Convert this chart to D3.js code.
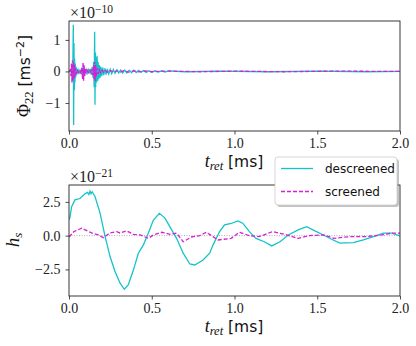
<!DOCTYPE html>
<html>
<head>
<meta charset="utf-8">
<script src="https://cdn.jsdelivr.net/npm/d3@7"></script>
<style>
  html, body { margin: 0; padding: 0; background: #fff; }
  svg { display: block; }
</style>
</head>
<body>
<div id="chart"></div>
<script>
// values, t in ms
const xTicks = [0, 0.5, 1.0, 1.5, 2.0]
const phiTicks = [-1, 0, 1]
const hTicks = [-2.5, 0, 2.5]

// Phi_22 in units of 1e-10 m s^-2
const phiDescreened = [
  [0.000, 0], [0.010, 0.05], [0.015, -0.1], [0.018, 0.2], [0.021, -0.3], [0.024, 0.5],
  [0.026, 1.48], [0.028, -1.7], [0.030, 0.9], [0.032, -0.6], [0.034, 0.4], [0.036, -0.35],
  [0.038, 0.25], [0.040, -0.2], [0.043, 0.15], [0.046, -0.12], [0.050, 0.08], [0.055, -0.06],
  [0.060, 0.05], [0.066, -0.05], [0.072, 0.04], [0.078, -0.08], [0.082, 0.12], [0.085, -0.15],
  [0.088, 0.15], [0.091, -0.12], [0.095, 0.08], [0.100, -0.06], [0.106, 0.05], [0.112, -0.05],
  [0.118, 0.05], [0.124, -0.06], [0.130, 0.08], [0.135, -0.1], [0.140, 0.15], [0.145, -0.2],
  [0.149, 0.3], [0.152, -0.5], [0.155, 1.26], [0.157, -1.06], [0.159, 0.6], [0.161, -0.5],
  [0.164, 0.45], [0.167, -0.35], [0.170, 0.5], [0.173, -0.3], [0.176, 0.3], [0.180, -0.25],
  [0.184, 0.2], [0.188, -0.2], [0.193, 0.15], [0.198, -0.15], [0.204, 0.12], [0.210, -0.12],
  [0.217, 0.1], [0.224, -0.1], [0.232, 0.08], [0.240, -0.08], [0.249, 0.07], [0.258, -0.07],
  [0.268, 0.06], [0.278, -0.06], [0.289, 0.05], [0.300, -0.05], [0.312, 0.05], [0.324, -0.05],
  [0.337, 0.045], [0.350, -0.045], [0.364, 0.04], [0.378, -0.04], [0.392, 0.04], [0.406, -0.035],
  [0.420, 0.035], [0.435, -0.03], [0.450, 0.03], [0.466, -0.03], [0.482, 0.025], [0.500, -0.025],
  [0.520, 0.02], [0.540, -0.02], [0.560, 0.02], [0.580, -0.02], [0.600, 0.015], [0.700, -0.01],
  [0.900, 0.01], [1.200, -0.01], [1.500, 0.01], [1.800, -0.01], [2.000, 0]
]
const phiScreened = [
  [0.000, 0], [0.008, 0.05], [0.012, -0.15], [0.015, 0.25], [0.018, -0.35], [0.021, 0.35],
  [0.024, -0.3], [0.027, 0.3], [0.030, -0.25], [0.033, 0.2], [0.036, -0.15], [0.040, 0.1],
  [0.045, -0.08], [0.050, 0.05], [0.058, -0.04], [0.066, 0.04], [0.074, -0.08], [0.078, 0.15],
  [0.082, -0.25], [0.085, 0.3], [0.088, -0.3], [0.091, 0.2], [0.094, -0.15], [0.098, 0.1],
  [0.103, -0.06], [0.110, 0.04], [0.118, -0.04], [0.126, 0.04], [0.134, -0.05], [0.140, 0.08],
  [0.145, -0.12], [0.149, 0.2], [0.152, -0.25], [0.155, 0.3], [0.158, -0.3], [0.161, 0.2],
  [0.165, -0.15], [0.170, 0.1], [0.176, -0.08], [0.183, 0.06], [0.191, -0.05], [0.200, 0.04],
  [0.210, -0.04], [0.220, 0.03], [0.235, -0.03], [0.250, 0.03], [0.270, -0.025], [0.290, 0.025],
  [0.310, -0.02], [0.330, 0.02], [0.360, -0.02], [0.390, 0.02], [0.420, -0.015], [0.460, 0.015],
  [0.500, -0.01], [0.600, 0.01], [0.800, -0.01], [1.000, 0.01], [1.300, -0.01], [1.600, 0.01],
  [2.000, 0]
]

// h_s in units of 1e-21
const hDescreened = [
  [0.000, 1.2], [0.005, 1.3], [0.016, 2.15], [0.036, 2.65], [0.066, 2.75], [0.097, 3.1],
  [0.112, 3.2], [0.120, 3.05], [0.127, 3.3], [0.133, 3.1], [0.140, 3.25], [0.157, 2.9],
  [0.187, 1.7], [0.218, -0.05], [0.248, -1.55], [0.278, -2.65], [0.308, -3.5], [0.334, -3.97],
  [0.358, -3.65], [0.389, -2.55], [0.419, -1.3], [0.449, -0.7], [0.479, 0.18], [0.510, 1.15],
  [0.546, 1.65], [0.580, 1.3], [0.610, 0.65], [0.650, -0.2], [0.690, -1.3], [0.730, -2.1],
  [0.760, -2.17], [0.810, -1.8], [0.850, -1.3], [0.870, -0.7], [0.910, 0.3], [0.940, 0.8],
  [0.980, 0.9], [1.020, 1.09], [1.050, 0.92], [1.090, 0.3], [1.130, -0.2], [1.180, -0.45],
  [1.225, -0.76], [1.275, -0.45], [1.325, 0.05], [1.385, 0.42], [1.436, 0.67], [1.486, 0.35],
  [1.537, 0.05], [1.587, -0.27], [1.637, -0.56], [1.718, -0.52], [1.779, -0.32], [1.839, -0.07],
  [1.900, 0.18], [1.950, 0.18], [2.000, -0.02]
]
const hScreened = [
  [0.000, -0.1], [0.030, 0.3], [0.077, 0.55], [0.137, 0.2], [0.177, 0.05], [0.207, -0.15],
  [0.248, 0.2], [0.288, 0.3], [0.308, 0.2], [0.349, 0.35], [0.389, 0.1], [0.430, 0.05],
  [0.480, -0.2], [0.510, 0.05], [0.560, 0.25], [0.610, 0.1], [0.650, 0.18], [0.690, -0.45],
  [0.740, -0.1], [0.790, 0.0], [0.830, 0.25], [0.870, -0.07], [0.900, -0.32], [0.980, -0.2],
  [1.030, 0.25], [1.090, 0.0], [1.150, -0.07], [1.230, 0.3], [1.300, 0.1], [1.385, -0.2],
  [1.450, 0.0], [1.540, 0.05], [1.600, -0.2], [1.700, -0.07], [1.800, -0.07], [1.890, 0.05],
  [1.950, 0.18], [2.000, 0.18]
]

const cyan = '#14c3c8'
const magenta = '#d81fd8'
const serif = '"Liberation Serif", "DejaVu Serif", serif'
const sans = '"DejaVu Sans", sans-serif'

const W = 416, H = 346
const svg = d3.select('#chart').append('svg')
  .attr('width', W).attr('height', H)

const x = d3.scaleLinear().domain([0, 2]).range([69, 400])

function panel(id, top, bottom, yDomain, ticks, fmt, series, expo, offsetY) {
  const y = d3.scaleLinear().domain(yDomain).range([bottom, top])
  const g = svg.append('g')

  g.append('clipPath').attr('id', id)
    .append('rect').attr('x', 69).attr('y', top).attr('width', 331).attr('height', bottom - top)

  const plot = g.append('g').attr('clip-path', `url(#${id})`)
  const line = d3.line().x(d => x(d[0])).y(d => y(d[1]))
  series.forEach(s => {
    if (s.zero) {
      plot.append('line')
        .attr('x1', 69).attr('x2', 400).attr('y1', y(0)).attr('y2', y(0))
        .attr('stroke', '#999').attr('stroke-width', 0.8).attr('stroke-dasharray', '1,1.5')
      return
    }
    plot.append('path').datum(s.data)
      .attr('d', line)
      .attr('fill', 'none')
      .attr('stroke', s.color)
      .attr('stroke-width', 1.3)
      .attr('stroke-dasharray', s.dash || null)
  })

  // axes
  const xa = g.append('g').attr('transform', `translate(0,${bottom})`)
    .call(d3.axisBottom(x).tickValues(xTicks).tickSize(3.5).tickPadding(4).tickFormat(d3.format('.1f')))
  const ya = g.append('g').attr('transform', 'translate(69,0)')
    .call(d3.axisLeft(y).tickValues(ticks).tickSize(3.5).tickPadding(5).tickFormat(fmt))
  ;[xa, ya].forEach(a => {
    a.select('.domain').remove()
    a.selectAll('line').attr('stroke', '#222').attr('stroke-width', 0.8)
    a.selectAll('text').attr('font-family', serif).attr('font-size', 14).attr('fill', '#222')
  })

  g.append('rect').attr('x', 69).attr('y', top).attr('width', 331).attr('height', bottom - top)
    .attr('fill', 'none').attr('stroke', '#222').attr('stroke-width', 0.9)

  // offset text
  const off = g.append('text').attr('x', 70).attr('y', offsetY)
    .attr('font-family', serif).attr('font-size', 16).attr('fill', '#222')
  off.append('tspan').text('×10')
  off.append('tspan').attr('font-size', 11.5).attr('dy', -5.5).text(expo)

  // x label
  const xl = g.append('text').attr('x', 234).attr('y', bottom + 36)
    .attr('text-anchor', 'middle').attr('fill', '#111')
  xl.append('tspan').attr('font-family', serif).attr('font-style', 'italic').attr('font-size', 18).text('t')
  xl.append('tspan').attr('font-family', serif).attr('font-style', 'italic').attr('font-size', 12.5).attr('dy', 3).text('ret')
  xl.append('tspan').attr('font-family', sans).attr('font-size', 15.5).attr('dy', -3).text(' [ms]')
  return g
}

panel('clipTop', 21, 131, [-1.89, 1.6], phiTicks, d => d3.format('d')(d).replace('-', '−'),
  [{ data: phiDescreened, color: cyan }, { data: phiScreened, color: magenta, dash: '4,2' }],
  '−10', 18)

panel('clipBot', 185, 296, [-4.47, 3.75], hTicks, d => d3.format('.1f')(d).replace('-', '−'),
  [{ zero: true }, { data: hDescreened, color: cyan }, { data: hScreened, color: magenta, dash: '4,2' }],
  '−21', 182)

// y labels
const yl1 = svg.append('text').attr('transform', 'translate(30,76) rotate(-90)')
  .attr('text-anchor', 'middle').attr('fill', '#111')
yl1.append('tspan').attr('font-family', serif).attr('font-size', 18).text('Φ')
yl1.append('tspan').attr('font-family', serif).attr('font-size', 12.5).attr('dy', 3).text('22')
yl1.append('tspan').attr('font-family', sans).attr('font-size', 15.5).attr('dy', -3).text(' [ms')
yl1.append('tspan').attr('font-family', sans).attr('font-size', 11).attr('dy', -6).text('−2')
yl1.append('tspan').attr('font-family', sans).attr('font-size', 15.5).attr('dy', 6).text(']')

const yl2 = svg.append('text').attr('transform', 'translate(19,240) rotate(-90)')
  .attr('text-anchor', 'middle').attr('fill', '#111')
yl2.append('tspan').attr('font-family', serif).attr('font-style', 'italic').attr('font-size', 19).text('h')
yl2.append('tspan').attr('font-family', serif).attr('font-style', 'italic').attr('font-size', 13).attr('dy', 3).text('s')

// legend
const leg = svg.append('g')
leg.append('rect').attr('x', 277).attr('y', 159).attr('width', 122).attr('height', 48).attr('rx', 3)
  .attr('fill', '#888').attr('opacity', 0.5)
leg.append('rect').attr('x', 275).attr('y', 157).attr('width', 122).attr('height', 48).attr('rx', 3)
  .attr('fill', '#fff').attr('stroke', '#ccc').attr('stroke-width', 0.8)
const legItems = [
  { label: 'descreened', color: cyan, dash: null, y: 168.5 },
  { label: 'screened', color: magenta, dash: '4,2', y: 191.5 }
]
legItems.forEach(d => {
  leg.append('line').attr('x1', 281).attr('x2', 313).attr('y1', d.y).attr('y2', d.y)
    .attr('stroke', d.color).attr('stroke-width', 1.3).attr('stroke-dasharray', d.dash)
  leg.append('text').attr('x', 325).attr('y', d.y + 4.5)
    .attr('font-family', sans).attr('font-size', 12).attr('fill', '#111').text(d.label)
})
</script>
</body>
</html>
